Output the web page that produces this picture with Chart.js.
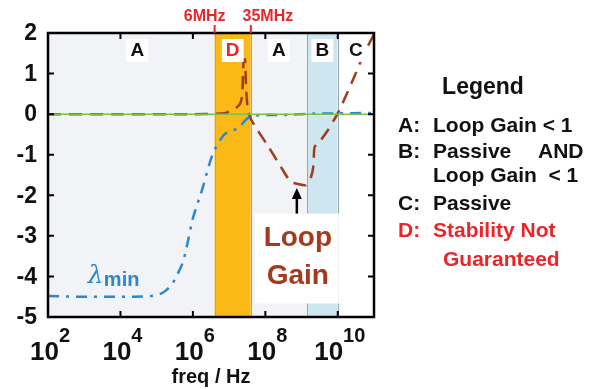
<!DOCTYPE html>
<html>
<head>
<meta charset="utf-8">
<script src="https://cdn.jsdelivr.net/npm/chart.js@4"></script>
<style>
  html, body { margin: 0; padding: 0; background: #fff; }
  canvas { display: block; }
</style>
</head>
<body>
<canvas id="chart" width="590" height="389"></canvas>
<script>
// --- data (frequencies as log10(f / Hz)) ---
const loopGainLogF = [2.0, 4.0, 6.0, 6.6, 6.9, 7.05, 7.2, 7.3, 7.36, 7.4, 7.44, 7.47, 7.52, 7.6, 7.79, 8.09, 8.43, 8.7, 8.9, 9.12, 9.26, 9.33, 9.36, 9.53, 9.73, 10.0, 10.17, 10.45, 10.73, 11.0];
const loopGainVals = [0, 0, 0, 0.01, 0.03, 0.08, 0.16, 0.25, 0.45, 1.3, 1.35, 0.6, 0.1, -0.12, -0.4, -0.81, -1.3, -1.67, -1.72, -1.75, -1.55, -1.26, -0.81, -0.64, -0.39, 0.02, 0.34, 0.91, 1.5, 1.97];

const lambdaLogF = [2.0, 3.0, 4.35, 5.0, 5.25, 5.46, 5.6, 5.74, 5.87, 5.99, 6.13, 6.27, 6.4, 6.54, 6.7, 6.85, 7.05, 7.26, 7.4, 7.51, 7.79, 8.5, 9.2, 10.0, 11.0];
const lambdaVals = [-4.48, -4.5, -4.5, -4.46, -4.35, -4.14, -3.9, -3.6, -3.1, -2.6, -2.2, -1.82, -1.4, -1.0, -0.72, -0.52, -0.4, -0.35, -0.2, -0.1, -0.03, -0.02, 0.01, 0.02, 0.03];

const zeroLogF = [2, 11];
const zeroVals = [0, 0];

// regions: A, D, A, B, C
const bandLabels = ['A', 'D', 'A', 'B', 'C'];
const bandFromLogF = [2.0, 6.6, 7.6, 9.15, 10.0];
const bandToLogF = [6.6, 7.6, 9.15, 10.0, 11.0];
const bandColors = ['#f1f3f6', '#fbb917', '#f1f3f6', '#cde6ef', '#ffffff'];
const bandTextColors = ['#111', '#e8262a', '#111', '#111', '#111'];

const markerLabels = ['6MHz', '35MHz'];
const markerLogF = [6.6, 7.6];

const xTickExps = [2, 4, 6, 8, 10];
const yTicks = [2, 1, 0, -1, -2, -3, -4, -5];

const legendLines = [
    ['A:', 'Loop Gain < 1', '#111'],
    ['B:', 'Passive', '#111'],
    ['', 'Loop Gain  < 1', '#111'],
    ['C:', 'Passive', '#111'],
    ['D:', 'Stability Not', '#e8262a'],
    ['', 'Guaranteed', '#e8262a']
];

const FONT = '"Liberation Sans", Arial, sans-serif';
const hz = e => Math.pow(10, e);
const toPoints = (xs, ys) => xs.map((e, i) => ({ x: hz(e), y: ys[i] }));

// --- background bands ---
const bandsPlugin = {
    id: 'bands',
    beforeDatasetsDraw(chart) {
        const { ctx, chartArea: a, scales: { x } } = chart;
        ctx.save();
        bandFromLogF.forEach((from, i) => {
            const x0 = x.getPixelForValue(hz(from));
            const x1 = x.getPixelForValue(hz(bandToLogF[i]));
            ctx.fillStyle = bandColors[i];
            ctx.fillRect(x0, a.top, x1 - x0, a.bottom - a.top);
        });
        // thin borders round the coloured bands
        ctx.strokeStyle = '#9aa6ad';
        ctx.lineWidth = 1;
        [6.6, 7.6, 9.15, 10.0].forEach(e => {
            const px = Math.round(x.getPixelForValue(hz(e))) + 0.5;
            ctx.beginPath();
            ctx.moveTo(px, a.top);
            ctx.lineTo(px, a.bottom);
            ctx.stroke();
        });
        ctx.restore();
    }
};

// --- frame, ticks, labels, notes ---
const decorPlugin = {
    id: 'decor',
    afterDraw(chart) {
        const { ctx, chartArea: a, scales: { x, y } } = chart;
        ctx.save();

        // band letters with white boxes
        ctx.textAlign = 'center';
        ctx.textBaseline = 'middle';
        ctx.font = 'bold 19px ' + FONT;
        bandLabels.forEach((lab, i) => {
            const cx = (x.getPixelForValue(hz(bandFromLogF[i])) + x.getPixelForValue(hz(bandToLogF[i]))) / 2 + (i === 0 ? 6 : 0);
            const w = ctx.measureText(lab).width + 8;
            ctx.fillStyle = '#fff';
            ctx.fillRect(cx - w / 2, a.top + 6, w, 23);
            ctx.fillStyle = bandTextColors[i];
            ctx.fillText(lab, cx, a.top + 18);
        });

        // frame
        ctx.strokeStyle = '#000';
        ctx.lineWidth = 2.5;
        ctx.strokeRect(a.left, a.top, a.right - a.left, a.bottom - a.top);

        // inward ticks
        ctx.lineWidth = 2;
        xTickExps.forEach(e => {
            const px = x.getPixelForValue(hz(e));
            ctx.beginPath();
            ctx.moveTo(px, a.bottom); ctx.lineTo(px, a.bottom - 6);
            ctx.moveTo(px, a.top); ctx.lineTo(px, a.top + 6);
            ctx.stroke();
        });
        yTicks.forEach(v => {
            const py = y.getPixelForValue(v);
            ctx.beginPath();
            ctx.moveTo(a.left, py); ctx.lineTo(a.left + 6, py);
            ctx.moveTo(a.right, py); ctx.lineTo(a.right - 6, py);
            ctx.stroke();
        });

        // red frequency markers
        ctx.strokeStyle = '#e8262a';
        ctx.fillStyle = '#e8262a';
        ctx.font = 'bold 16px ' + FONT;
        ctx.textBaseline = 'alphabetic';
        markerLogF.forEach((e, i) => {
            const px = x.getPixelForValue(hz(e));
            ctx.beginPath();
            ctx.moveTo(px, a.top - 8); ctx.lineTo(px, a.top);
            ctx.stroke();
            ctx.textAlign = 'center';
            ctx.fillText(markerLabels[i], px + (i === 0 ? -10 : 17), 21);
        });

        // y tick labels
        ctx.fillStyle = '#111';
        ctx.font = 'bold 23px ' + FONT;
        ctx.textAlign = 'right';
        ctx.textBaseline = 'middle';
        yTicks.forEach(v => ctx.fillText(String(v), 37, y.getPixelForValue(v) + 1));

        // x tick labels 10^n
        ctx.textBaseline = 'alphabetic';
        xTickExps.forEach(e => {
            const px = x.getPixelForValue(hz(e));
            ctx.font = 'bold 26px ' + FONT;
            const wb = ctx.measureText('10').width;
            ctx.font = 'bold 20px ' + FONT;
            const we = ctx.measureText(String(e)).width;
            const left = px - (wb + we) / 2 + 2;
            ctx.textAlign = 'left';
            ctx.font = 'bold 26px ' + FONT;
            ctx.fillText('10', left, 360);
            ctx.font = 'bold 20px ' + FONT;
            ctx.fillText(String(e), left + wb, 342);
        });

        // axis title
        ctx.font = 'bold 20px ' + FONT;
        ctx.textAlign = 'center';
        ctx.fillText('freq / Hz', (a.left + a.right) / 2, 383);

        // lambda_min label
        ctx.fillStyle = '#2a87d0';
        ctx.textAlign = 'left';
        ctx.font = 'italic 25px "DejaVu Serif", serif';
        const lx = x.getPixelForValue(hz(3.1));
        const ly = y.getPixelForValue(-4.15);
        ctx.fillText('λ', lx, ly);
        ctx.font = 'bold 20px ' + FONT;
        ctx.fillText('min', lx + 16, ly + 3);

        // loop gain note with arrow
        const ax = x.getPixelForValue(hz(8.87));
        const yTip = y.getPixelForValue(-1.82);
        const yTail = y.getPixelForValue(-2.45);
        ctx.fillStyle = '#fff';
        ctx.fillRect(ax - 42, yTail, 84, 90);
        ctx.strokeStyle = '#000';
        ctx.fillStyle = '#000';
        ctx.lineWidth = 2.5;
        ctx.beginPath();
        ctx.moveTo(ax, yTail); ctx.lineTo(ax, yTip + 8);
        ctx.stroke();
        ctx.beginPath();
        ctx.moveTo(ax, yTip); ctx.lineTo(ax - 5, yTip + 11); ctx.lineTo(ax + 5, yTip + 11);
        ctx.closePath();
        ctx.fill();
        ctx.fillStyle = '#a33a1e';
        ctx.font = 'bold 28px ' + FONT;
        ctx.textAlign = 'center';
        ctx.textBaseline = 'middle';
        ctx.fillText('Loop', ax + 1, y.getPixelForValue(-3.05));
        ctx.fillText('Gain', ax + 1, y.getPixelForValue(-4.0));

        // legend
        ctx.textBaseline = 'alphabetic';
        ctx.fillStyle = '#111';
        ctx.font = 'bold 23px ' + FONT;
        ctx.fillText('Legend', 483, 94);
        ctx.font = 'bold 21px ' + FONT;
        const baselines = [132, 158, 182, 210, 237, 266];
        ctx.textAlign = 'left';
        legendLines.forEach((ln, i) => {
            ctx.fillStyle = ln[2];
            ctx.fillText(ln[0], 398, baselines[i]);
            ctx.fillText(ln[1], i === 5 ? 443 : 433, baselines[i]);
        });
        ctx.fillStyle = '#111';
        ctx.fillText('AND', 538, baselines[1]);

        ctx.restore();
    }
};

document.addEventListener('DOMContentLoaded', () => {
    const ctx = document.getElementById('chart').getContext('2d');
    new Chart(ctx, {
        type: 'line',
        data: {
            datasets: [
                {
                    label: 'zero',
                    data: toPoints(zeroLogF, zeroVals),
                    borderColor: '#7dc242',
                    borderWidth: 1.5,
                    pointRadius: 0
                },
                {
                    label: 'lambda_min',
                    data: toPoints(lambdaLogF, lambdaVals),
                    borderColor: '#2a87d0',
                    borderWidth: 2.5,
                    borderDash: [11, 7, 3, 7],
                    pointRadius: 0,
                    cubicInterpolationMode: 'monotone'
                },
                {
                    label: 'Loop Gain',
                    data: toPoints(loopGainLogF, loopGainVals),
                    borderColor: '#a33a1e',
                    borderWidth: 2.5,
                    borderDash: [13, 8],
                    pointRadius: 0,
                    tension: 0.2
                }
            ]
        },
        options: {
            responsive: false,
            animation: false,
            layout: { padding: { left: 48, top: 33, right: 216, bottom: 72 } },
            plugins: { legend: { display: false }, tooltip: { enabled: false } },
            scales: {
                x: { type: 'logarithmic', min: 1e2, max: 1e11, display: false },
                y: { type: 'linear', min: -5, max: 2, display: false }
            }
        },
        plugins: [bandsPlugin, decorPlugin]
    });
});
</script>
</body>
</html>
